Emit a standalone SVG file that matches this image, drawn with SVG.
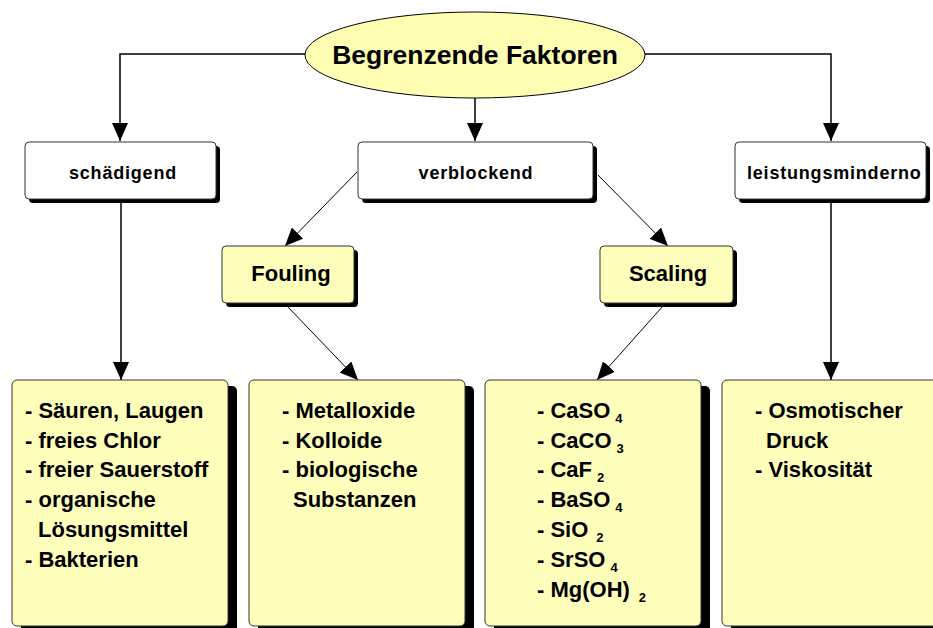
<svg xmlns="http://www.w3.org/2000/svg" width="933" height="628" viewBox="0 0 933 628">
<defs>
<marker id="arr" viewBox="0 0 18 16" refX="18" refY="8" markerWidth="18" markerHeight="16" markerUnits="userSpaceOnUse" orient="auto">
<path d="M0,0 L18,8 L0,16 z" fill="#000"/>
</marker>
<style>
.t{font-family:"Liberation Sans",Arial,sans-serif;font-weight:bold;fill:#000}
.sm{font-size:18px;letter-spacing:0.8px;text-anchor:middle}
.md{font-size:22px;text-anchor:middle}
.li{font-size:22px}
.sub{font-size:13px}
.box{fill:#fff;stroke:#333;stroke-width:1}
.ybox{fill:#FFFFBC;stroke:#333;stroke-width:1}
.sh{fill:#000}
.c{fill:none;stroke:#000;stroke-width:1.5;marker-end:url(#arr)}
.d{fill:none;stroke:#000;stroke-width:1;marker-end:url(#arr)}
</style>
</defs>
<rect width="933" height="628" fill="#fff"/>

<g id="connectors">
<path class="c" d="M305,54 H120 V141"/>
<path class="c" d="M645,54 H831 V141"/>
<path class="c" d="M475,98 V141"/>
<path class="c" d="M121,203 V380"/>
<path class="c" d="M831,203 V380"/>
<path class="d" d="M357,172 L285,246"/>
<path class="d" d="M598,175 L668,246"/>
<path class="d" d="M287,306 L358,380"/>
<path class="d" d="M663,306 L597,380"/>
</g>

<g id="root">
<ellipse cx="475" cy="55" rx="170" ry="43" fill="#FFFFB3" stroke="#000" stroke-width="1"/>
<text class="t md" x="475" y="64" style="font-size:26.5px">Begrenzende Faktoren</text>
</g>

<g id="schaedigend">
<rect class="sh" x="29" y="146" width="191" height="57" rx="4"/>
<rect class="box" x="25" y="142" width="191" height="57" rx="4"/>
<text class="t sm" x="123" y="179">schädigend</text>
</g>

<g id="verblockend">
<rect class="sh" x="362" y="146" width="235" height="57" rx="4"/>
<rect class="box" x="358" y="142" width="235" height="57" rx="4"/>
<text class="t sm" x="476" y="179">verblockend</text>
</g>

<g id="leistungsmindernd">
<rect class="sh" x="739" y="146" width="191" height="57" rx="4"/>
<rect class="box" x="735" y="142" width="191" height="57" rx="4"/>
<text class="t sm" x="747" y="179" style="text-anchor:start">leistungsminderno</text>
</g>

<g id="fouling">
<rect class="sh" x="226" y="250" width="132" height="57" rx="4"/>
<rect class="ybox" x="222" y="246" width="132" height="57" rx="4"/>
<text class="t md" x="291" y="281">Fouling</text>
</g>

<g id="scaling">
<rect class="sh" x="604" y="250" width="133" height="57" rx="4"/>
<rect class="ybox" x="600" y="246" width="133" height="57" rx="4"/>
<text class="t md" x="668" y="281">Scaling</text>
</g>

<g id="list1">
<rect class="sh" x="21" y="386" width="216" height="260" rx="5"/>
<rect class="ybox" x="12" y="380" width="216" height="246" rx="5"/>
<text class="t li" x="25" y="418">- Säuren, Laugen</text>
<text class="t li" x="25" y="448">- freies Chlor</text>
<text class="t li" x="25" y="477">- freier Sauerstoff</text>
<text class="t li" x="25" y="507">- organische</text>
<text class="t li" x="38" y="537">Lösungsmittel</text>
<text class="t li" x="25" y="567">- Bakterien</text>
</g>

<g id="list2">
<rect class="sh" x="258" y="386" width="216" height="260" rx="5"/>
<rect class="ybox" x="249" y="380" width="216" height="246" rx="5"/>
<text class="t li" x="282" y="418">- Metalloxide</text>
<text class="t li" x="282" y="448">- Kolloide</text>
<text class="t li" x="282" y="477">- biologische</text>
<text class="t li" x="293" y="507">Substanzen</text>
</g>

<g id="list3">
<rect class="sh" x="494" y="386" width="216" height="260" rx="5"/>
<rect class="ybox" x="485" y="380" width="216" height="246" rx="5"/>
<text class="t li" x="537" y="418">- CaSO<tspan class="sub" dx="5" dy="5">4</tspan></text>
<text class="t li" x="537" y="448">- CaCO<tspan class="sub" dx="5" dy="5">3</tspan></text>
<text class="t li" x="537" y="477">- CaF<tspan class="sub" dx="5" dy="5">2</tspan></text>
<text class="t li" x="537" y="507">- BaSO<tspan class="sub" dx="5" dy="5">4</tspan></text>
<text class="t li" x="537" y="537">- SiO<tspan class="sub" dx="8" dy="5">2</tspan></text>
<text class="t li" x="537" y="567">- SrSO<tspan class="sub" dx="5" dy="5">4</tspan></text>
<text class="t li" x="537" y="597">- Mg(OH)<tspan class="sub" dx="9" dy="5">2</tspan></text>
</g>

<g id="list4">
<rect class="sh" x="731" y="386" width="216" height="260" rx="5"/>
<rect class="ybox" x="722" y="380" width="216" height="246" rx="5"/>
<text class="t li" x="755" y="418">- Osmotischer</text>
<text class="t li" x="766" y="448">Druck</text>
<text class="t li" x="755" y="477">- Viskosität</text>
</g>
</svg>
